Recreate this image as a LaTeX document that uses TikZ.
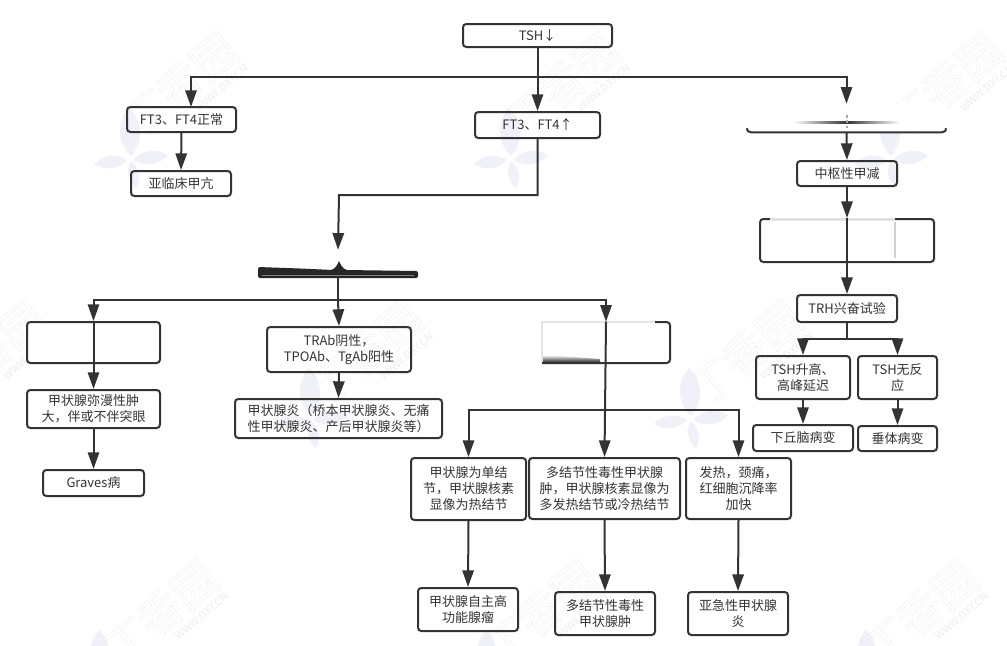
\documentclass[tikz,border=0pt]{standalone}
\usepackage{fontspec}
\setmainfont{Noto Sans CJK SC}
\usetikzlibrary{arrows.meta,calc}
\definecolor{ink}{HTML}{333333}
\definecolor{petal}{HTML}{F0F0F9}
\definecolor{wm}{HTML}{EDEDED}
\tikzset{
  box/.style={draw=ink,line width=1.5pt,rounded corners=2.5pt,inner sep=0pt,align=center,text=ink,font=\fontsize{9.75pt}{12pt}\selectfont},
  blank/.style={box,fill=white},
  ghost/.style={fill=white,inner sep=0pt},
  link/.style={draw=ink,line width=1.5pt},
  arr/.style={link,-{Triangle[length=12.5pt,width=8.5pt]}},
  wmark/.style={text=wm,rotate=40,inner sep=0pt,font=\fontsize{33pt}{33pt}\selectfont},
  wmsmall/.style={text=wm,rotate=40,inner sep=0pt,font=\fontsize{8pt}{8pt}\selectfont},
  petalshape/.style={fill=petal,draw=none}
}
% name, x1, y1, x2, y2, text
\newcommand{\bx}[6]{\node[box,minimum width={(#4-#2)*0.75pt},minimum height={(#5-#3)*0.75pt}] (#1) at ({(#2+#4)/2},{(#3+#5)/2}) {#6};}
\newcommand{\gh}[6]{\node[#6,minimum width={(#4-#2)*0.75pt},minimum height={(#5-#3)*0.75pt}] (#1) at ({(#2+#4)/2},{(#3+#5)/2}) {};}
\newcommand{\flowermark}[2]{%
  \fill[petalshape] (#1+1,#2-2) to[bend left=45] (#1-1,#2-50) to[bend left=45] cycle;
  \fill[petalshape] (#1-3,#2+2) to[bend left=40] (#1-36,#2+6) to[bend left=40] cycle;
  \fill[petalshape] (#1+3,#2+2) to[bend right=40] (#1+38,#2-3) to[bend right=40] cycle;
  \fill[petalshape] (#1+1,#2+3) to[bend left=40] (#1+6,#2+30) to[bend left=40] cycle;
}
\newcommand{\logomark}[2]{%
  \node[wmark] at (#1-10,#2+8) {\special{pdf:code 1 Tr 0.3 w}丁香园\special{pdf:code 0 Tr}};
  \node[wmsmall] at (#1+32,#2+11) {WWW.DXY.CN};
}
\begin{document}
\begin{tikzpicture}[x=0.75pt,y=-0.75pt]
\useasboundingbox (0,0) rectangle (1007,646);
% watermarks
\flowermark{130}{158}\flowermark{510}{158}\flowermark{890}{158}
\flowermark{310}{418}\flowermark{690}{418}
\flowermark{100}{680}\flowermark{487}{680}\flowermark{867}{680}
\logomark{190}{77}\logomark{572}{77}\logomark{955}{77}
\logomark{-2}{345}\logomark{375}{345}\logomark{755}{345}
\logomark{170}{605}\logomark{550}{605}\logomark{930}{605}
% boxes
\bx{tsh}{463}{24}{612}{47}{TSH↓}
\bx{nrm}{127}{107}{236}{132}{FT3、FT4正常}
\bx{sub}{131}{171}{231}{196}{亚临床甲亢}
\bx{high}{475}{112}{600}{138}{FT3、FT4↑}
\gh{ea}{747}{104}{946}{132}{ghost}
\bx{cen}{797}{161}{897}{186}{中枢性甲减}
\gh{eb}{760}{219}{934}{262}{blank}
\bx{trh}{797}{295}{897}{322}{TRH兴奋试验}
\bx{up}{756}{356}{850}{399}{TSH升高、\\高峰延迟}
\bx{nor}{858}{356}{937}{399}{TSH无反\\应}
\bx{hyp}{753}{425}{853}{451}{下丘脑病变}
\bx{pit}{858}{426}{937}{451}{垂体病变}
\gh{ec}{258}{250}{418}{278}{ghost}
\gh{ed}{27}{322}{160}{363}{blank}
\bx{dif}{27}{390}{160}{428}{甲状腺弥漫性肿\\大，伴或不伴突眼}
\bx{grv}{43}{470}{144}{496}{Graves病}
\bx{tra}{267}{327}{411}{372}{TRAb阴性，\\TPOAb、TgAb阳性}
\bx{thy}{235}{399}{442}{438}{甲状腺炎（桥本甲状腺炎、无痛\\性甲状腺炎、产后甲状腺炎等）}
\gh{ee}{542}{322}{670}{363}{ghost}
\bx{sin}{411}{458}{526}{520}{甲状腺为单结\\节，甲状腺核素\\显像为热结节}
\bx{mul}{529}{458}{680}{519}{多结节性毒性甲状腺\\肿，甲状腺核素显像为\\多发热结节或冷热结节}
\bx{fev}{686}{458}{791}{519}{发热，颈痛，\\红细胞沉降率\\加快}
\bx{ade}{418}{588}{518}{631}{甲状腺自主高\\功能腺瘤}
\bx{gol}{555}{592}{655}{635}{多结节性毒性\\甲状腺肿}
\bx{sat}{688}{592}{788}{635}{亚急性甲状腺\\炎}
% partly erased outlines
\draw[link] (ea.south west) ++(0,-4) to[out=270,in=180] ++(4,4) -- ($(ea.south east)+(-4,0)$) to[out=0,in=270] ++(4,-4);
\shade[left color=white,right color=white,middle color=ink] (793,121.5) rectangle (900,123);
\draw[draw=black!35,line width=0.8pt,dash pattern=on 2pt off 2pt] (847,115) -- (847,128);
\draw[draw=black!12,line width=1.5pt] (770,219) -- (895,219);
\draw[draw=black!18,line width=0.8pt] (895,222) -- (895,258);
\fill[black!85,rounded corners=1.5pt] (258,267) -- (300,268.5) -- (333,270) -- (338,264) -- (339,260) -- (340,264) -- (345,270) -- (418,271) -- (418,278) -- (258,278) -- cycle;
\draw[draw=black!50,line width=0.4pt] (262,275.5) -- (414,275.5);
\draw[draw=black!10,line width=1pt] (542,363) -- (542,322) -- (660,322);
\shade[top color=white,bottom color=ink] (543,355) -- (600,359) -- (600,362) -- (543,362) -- cycle;
\draw[link,rounded corners=2.5pt] (655,322) -- (670,322) -- (670,363) -- (542,363);
% connectors
\coordinate (bt) at (tsh.south |- 0,77);
\coordinate (bl) at (191,107);
\coordinate (br) at (ea.north);
\draw[arr] (tsh.south) -- (high.north);
\draw[arr] (bt) -| (bl);
\draw[arr] (bt) -| (br);
\draw[arr] (nrm.south) -- (sub.north);
\draw[arr] (high.south) |- (339,195) -- (ec.north);
\coordinate (bm) at (ec.south |- 0,300);
\draw[link] (ec.south) -- (bm);
\draw[arr] (bm) -| (ed.north);
\draw[arr] (bm) -- (tra.north);
\draw[arr] (bm) -| (ee.north);
\draw[arr] (ed.north) -- (dif.north);
\draw[arr] (dif.south) -- (grv.north);
\draw[arr] (tra.south) -- (thy.north);
\coordinate (bn) at (ee.north |- 0,409.5);
\draw[arr] (ee.north) -- (mul.north);
\draw[arr] (bn) -| (sin.north);
\draw[arr] (bn) -| (fev.north);
\draw[arr] (sin.south) -- (ade.north);
\draw[arr] (mul.south) -- (gol.north);
\draw[arr] (fev.south) -- (sat.north);
\draw[arr] (ea.south) -- (cen.north);
\draw[arr] (cen.south) -- (eb.north);
\draw[link] (eb.north) -- (eb.south);
\draw[arr] (eb.south) -- (trh.north);
\coordinate (bq) at (trh.south |- 0,339);
\draw[link] (trh.south) -- (bq);
\draw[arr] (bq) -| (up.north);
\draw[arr] (bq) -| (nor.north);
\draw[arr] (up.south) -- (hyp.north);
\draw[arr] (nor.south) -- (pit.north);
\end{tikzpicture}
\end{document}
